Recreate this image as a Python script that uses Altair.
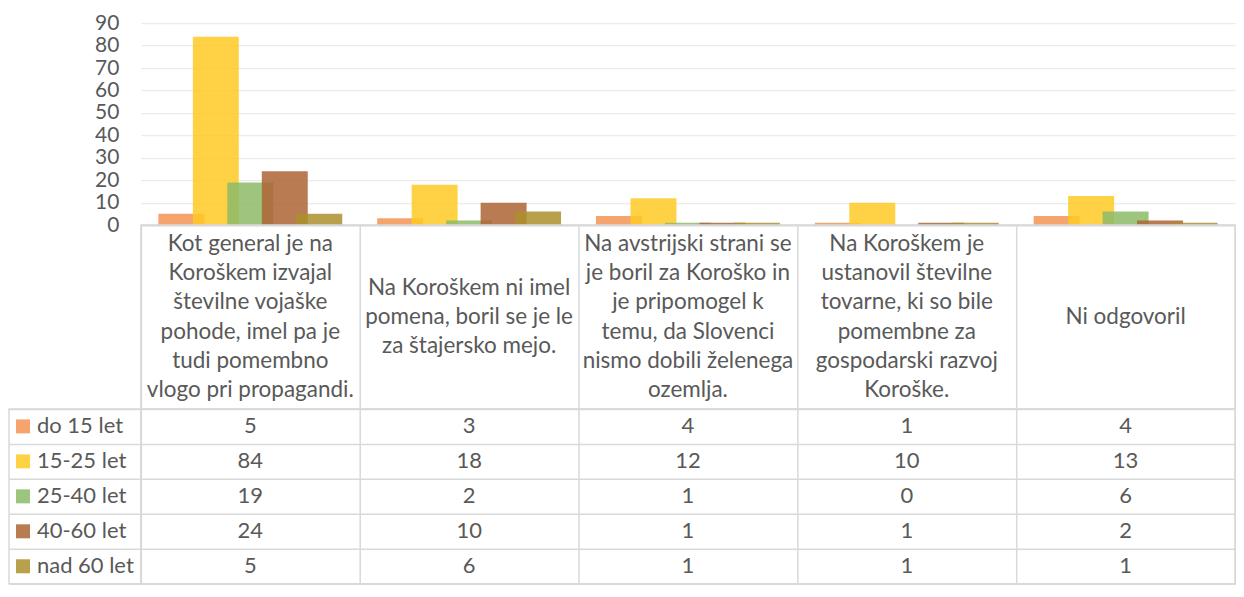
import altair as alt
import pandas as pd

categories = [
    "Kot general je na Koroškem izvajal številne vojaške pohode, imel pa je tudi pomembno vlogo pri propagandi.",
    "Na Koroškem ni imel pomena, boril se je le za štajersko mejo.",
    "Na avstrijski strani se je boril za Koroško in je pripomogel k temu, da Slovenci nismo dobili želenega ozemlja.",
    "Na Koroškem je ustanovil številne tovarne, ki so bile pomembne za gospodarski razvoj Koroške.",
    "Ni odgovoril",
]
category_lines = [
    ["Kot general je na", "Koroškem izvajal", "številne vojaške", "pohode, imel pa je", "tudi pomembno", "vlogo pri propagandi."],
    ["Na Koroškem ni imel", "pomena, boril se je le", "za štajersko mejo."],
    ["Na avstrijski strani se", "je boril za Koroško in", "je pripomogel k", "temu, da Slovenci", "nismo dobili želenega", "ozemlja."],
    ["Na Koroškem je", "ustanovil številne", "tovarne, ki so bile", "pomembne za", "gospodarski razvoj", "Koroške."],
    ["Ni odgovoril"],
]
series = ["do 15 let", "15-25 let", "25-40 let", "40-60 let", "nad 60 let"]
do_15 = [5, 3, 4, 1, 4]
s_15_25 = [84, 18, 12, 10, 13]
s_25_40 = [19, 2, 1, 0, 6]
s_40_60 = [24, 10, 1, 1, 2]
nad_60 = [5, 6, 1, 1, 1]
colors = ["#F29452", "#FFCA25", "#8CBB67", "#AD6434", "#AB8F2D"]
y_ticks = [0, 10, 20, 30, 40, 50, 60, 70, 80, 90]

values = [do_15, s_15_25, s_25_40, s_40_60, nad_60]
rows_data = []
for s, vals in zip(series, values):
    for c, v in zip(categories, vals):
        rows_data.append({"category": c, "series": s, "value": v})
df = pd.DataFrame(rows_data)
header_df = pd.DataFrame({
    "category": categories,
    "label": ["\n".join(l) for l in category_lines],
    "n": [len(l) for l in category_lines],
})
leg_df = pd.DataFrame({"series": series})

TXT = "#595959"
BORDER = "#D9D9D9"
FONT = "Lato"
W = 1095
LW = 132
H_BARS = 202
H_HEAD = 184
H_ROWS = 175
BAR_W = 46
BAR_STEP = 34.5
LINE_H = 29.4

x_scale = alt.Scale(domain=categories, paddingInner=0, paddingOuter=0)
color_scale = alt.Scale(domain=series, range=colors)
y_band = alt.Scale(domain=series, paddingInner=0, paddingOuter=0)
grid_axis = alt.Axis(labels=False, ticks=False, domain=False, title=None, grid=True,
                     tickBand="extent", gridColor=BORDER, gridWidth=1.5)
view_border = alt.ViewBackground(stroke=BORDER, strokeWidth=1.5)

bar_x_axis = alt.Axis(labels=False, ticks=False, title=None, domain=True,
                      domainColor=BORDER, domainWidth=2, grid=False)
bar_y_axis = alt.Axis(values=y_ticks, title=None, ticks=False, domain=False,
                      labelFontSize=21, labelColor=TXT, labelPadding=22,
                      gridColor="#EBEBEB", gridWidth=1.3)

bar_layers = []
for i, s in enumerate(series):
    bar_layers.append(
        alt.Chart(df).transform_filter(alt.datum.series == s).mark_bar(
            width=BAR_W, opacity=0.85, xOffset=(i - 2) * BAR_STEP
        ).encode(
            x=alt.X("category:N", scale=x_scale, sort=categories, axis=bar_x_axis),
            y=alt.Y("value:Q", scale=alt.Scale(domain=[0, 90], nice=False), axis=bar_y_axis),
            color=alt.Color("series:N", scale=color_scale, legend=None),
        )
    )
bars = alt.layer(*bar_layers).properties(width=W, height=H_BARS)

header = alt.Chart(header_df).mark_text(
    lineBreak="\n", fontSize=22.5, lineHeight=LINE_H, color=TXT, baseline="middle",
    dy=alt.expr(f"-(datum.n - 1) * {LINE_H / 2}"),
).encode(
    x=alt.X("category:N", scale=x_scale, sort=categories, axis=grid_axis),
    y=alt.value(H_HEAD / 2),
    text="label:N",
).properties(width=W, height=H_HEAD, view=view_border)

table = alt.Chart(df).mark_text(fontSize=22, color=TXT).encode(
    x=alt.X("category:N", scale=x_scale, sort=categories, axis=grid_axis),
    y=alt.Y("series:N", sort=series, scale=y_band, axis=grid_axis),
    text="value:Q",
).properties(width=W, height=H_ROWS, view=view_border)

leg_base = alt.Chart(leg_df).encode(
    y=alt.Y("series:N", sort=series, scale=y_band, axis=grid_axis)
)
swatch = leg_base.mark_square(size=196, opacity=0.85).encode(
    x=alt.value(14),
    color=alt.Color("series:N", scale=color_scale, legend=None),
)
leg_text = leg_base.mark_text(align="left", fontSize=22, color=TXT).encode(
    x=alt.value(28), text="series:N"
)
legend = alt.layer(swatch, leg_text).properties(width=LW, height=H_ROWS, view=view_border)


def blank(h):
    return alt.Chart(pd.DataFrame({"a": [0]})).mark_text(text="").encode(
        x=alt.value(0), y=alt.value(0)
    ).properties(width=LW, height=h)


chart = alt.concat(
    blank(H_BARS), bars, blank(H_HEAD), header, legend, table,
    columns=2, spacing=0, bounds="flush",
).resolve_scale(
    x="independent", y="independent", color="shared"
).configure_view(
    stroke="transparent"
).configure_axis(
    labelFont=FONT
).configure_text(
    font=FONT
).properties(
    padding={"left": 0, "top": 3, "right": 0, "bottom": 0}
)

chart.save("out.html", embed_options={"renderer": "svg", "actions": False})
